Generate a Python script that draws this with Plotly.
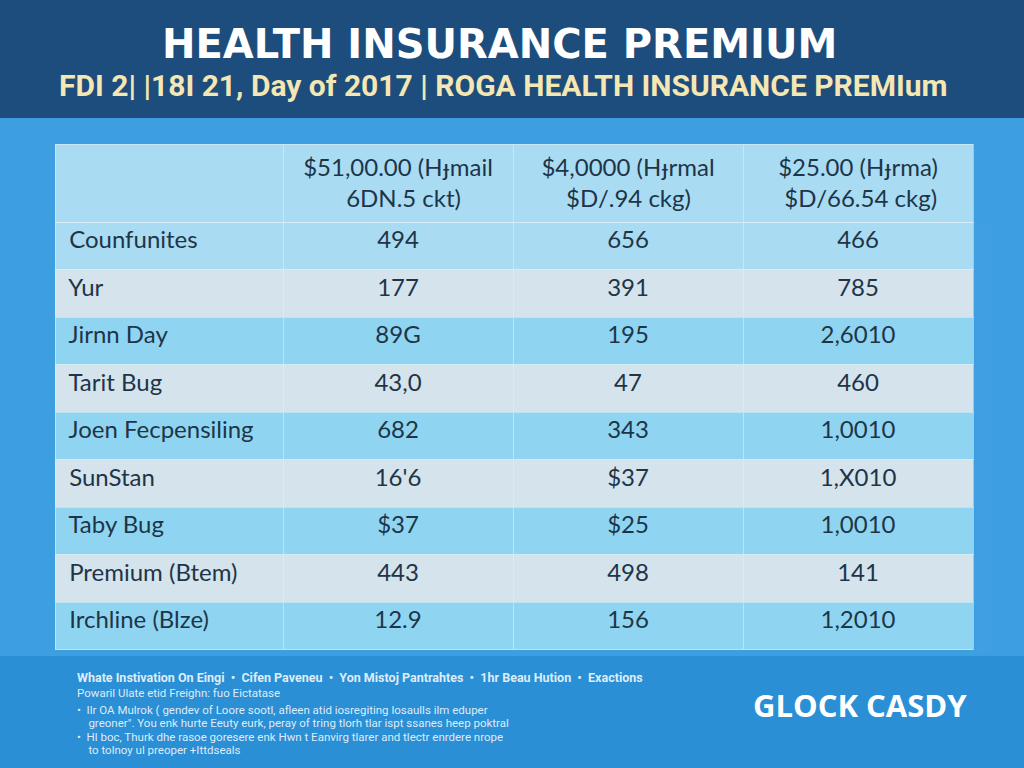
import plotly.graph_objects as go

# table data
row_labels = ["Counfunites", "Yur", "Jirnn Day", "Tarit Bug", "Joen Fecpensiling",
              "SunStan", "Taby Bug", "Premium (Btem)", "Irchline (Blze)"]
head_line1 = ["", "$51,00.00 (Hɟmail", "$4,0000 (Hɟrmal", "$25.00 (Hɟrma)"]
head_line2 = ["", "6DN.5 ckt)", "$D/.94 ckg)", "$D/66.54 ckg)"]
col1 = ["494", "177", "89G", "43,0", "682", "16'6", "$37", "443", "12.9"]
col2 = ["656", "391", "195", "47", "343", "$37", "$25", "498", "156"]
col3 = ["466", "785", "2,6010", "460", "1,0010", "1,X010", "1,0010", "141", "1,2010"]

title = "HEALTH INSURANCE PREMIUM"
subtitle = "FDI 2| |18I 21, Day of 2017 | ROGA HEALTH INSURANCE PREMIum"
footer_lines = [
    "Whate Instivation On Eingi  •  Cifen Paveneu  •  Yon Mistoj Pantrahtes  •  1hr Beau Hution  •  Exactions",
    "Powaril Ulate etid Freighn: fuo Eictatase",
    "•  Ilr OA Mulrok ( gendev of Loore sootl, afleen atid iosregiting losaulls ilm eduper",
    "    greoner\". You enk hurte Eeuty eurk, peray of tring tlorh tlar ispt ssanes heep poktral",
    "•  Hl boc, Thurk dhe rasoe goresere enk Hwn t Eanvirg tlarer and tlectr enrdere nrope",
    "    to tolnoy ul preoper +Ittdseals",
]
brand = "GLOCK CASDY"

HEAD = "#a9dcf3"
GRAY = "#d4e3ec"
CYAN = "#8fd5f1"
row_fill = [HEAD] + [GRAY if i % 2 == 0 else CYAN for i in range(len(row_labels) - 1)]


def centre_pad(a, b):
    # table cells left-align the lines of a block, so pad the shorter line
    n = max(0, len(a) - len(b))
    return a + "<br>" + "\u00a0" * n + b if b else a


col_headers = [centre_pad(a, b) for a, b in zip(head_line1, head_line2)]

W, H = 1024, 768
TXT = "#1e3548"

fig = go.Figure()
fig.add_trace(go.Table(
    domain=dict(x=[55 / W, 973 / W], y=[1 - 652 / H, 1 - 144 / H]),
    columnwidth=[228, 230, 230, 230],
    header=dict(
        values=col_headers,
        fill_color=HEAD,
        line=dict(color="rgba(225,240,248,0.55)", width=1),
        align=["left", "center", "center", "center"],
        font=dict(family="Lato", size=24, color=TXT),
        height=78,
    ),
    cells=dict(
        values=[["\u00a0" + r for r in row_labels], col1, col2, col3],
        fill_color=[row_fill] * 4,
        line=dict(color="rgba(225,240,248,0.55)", width=1),
        align=["left", "center", "center", "center"],
        font=dict(family="Lato", size=24, color=TXT),
        height=47.5,
    ),
))

shapes = [
    dict(type="rect", xref="paper", yref="paper", x0=0, x1=1, y0=1 - 118 / H, y1=1,
         fillcolor="#1d4d7c", line_width=0, layer="below"),
    dict(type="rect", xref="paper", yref="paper", x0=0, x1=1, y0=0, y1=1 - 656 / H,
         fillcolor="#2b8fd6", line_width=0, layer="below"),
]

annotations = [
    dict(text="<b>%s</b>" % title, x=499 / W, y=1 - 44 / H, xref="paper", yref="paper", showarrow=False,
         font=dict(family="DejaVu Sans", size=40, color="white"), xanchor="center", yanchor="middle"),
    dict(text="<b>%s</b>" % subtitle, x=503 / W, y=1 - 86 / H, xref="paper", yref="paper", showarrow=False,
         font=dict(family="Roboto", size=30, color="#f5e7b4"), xanchor="center", yanchor="middle"),
    dict(text="<b>%s</b>" % brand, x=860 / W, y=1 - 705 / H, xref="paper", yref="paper", showarrow=False,
         font=dict(family="Open Sans", size=31, color="white"), xanchor="center", yanchor="middle"),
]
footer_y = [677, 693, 710, 723, 737, 750]
for i, (line, yy) in enumerate(zip(footer_lines, footer_y)):
    annotations.append(dict(
        text=("<b>%s</b>" % line) if i == 0 else line,
        x=75 / W, y=1 - yy / H, xref="paper", yref="paper", showarrow=False,
        xanchor="left", yanchor="middle",
        font=dict(family="Roboto", size=12.5 if i == 0 else 11.5, color="rgba(255,255,255,0.85)"),
    ))

fig.update_layout(
    width=W, height=H,
    margin=dict(l=0, r=0, t=0, b=0),
    paper_bgcolor="#3d9ee0",
    plot_bgcolor="#3d9ee0",
    shapes=shapes,
    annotations=annotations,
    showlegend=False,
)

fig.write_html("out.html", config={"displayModeBar": False},
               post_script="document.body.style.margin='0';")
